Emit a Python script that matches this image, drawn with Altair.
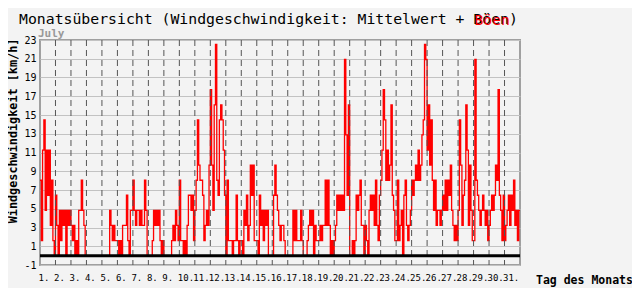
import altair as alt
import pandas as pd

# ---- data ----
DAYS = list(range(1, 32))
DAY_LABELS = [f"{d}." for d in DAYS]
Y_TICKS = list(range(-1, 24, 2))

# gust readings (mph steps, 12 readings per day)
GUSTS_MPH = {
    1: [5, 1, 7, 9, 3, 7, 4, 7, 2, 5, 1, 0],
    2: [4, 2, 0, 3, 1, 3, 2, 3, 0, 3, 2, 3],
    3: [2, 1, 2, 0, 1, 0, 3, 3, 5, 3, 2, 0],
    4: [0, 0, 0, 0, 0, 0, 0, 0, 0, 0, 0, 0],
    5: [0, 0, 0, 0, 0, 0, 3, 2, 1, 2, 1, 1],
    6: [1, 0, 1, 0, 2, 2, 2, 4, 1, 0, 3, 3],
    7: [5, 3, 2, 3, 3, 2, 3, 2, 2, 5, 3, 0],
    8: [0, 0, 0, 1, 3, 2, 3, 2, 3, 1, 0, 1],
    9: [0, 0, 0, 0, 0, 0, 1, 2, 1, 3, 2, 1],
    10: [5, 1, 1, 0, 1, 0, 2, 4, 4, 3, 4, 1],
    11: [3, 5, 9, 6, 5, 5, 4, 1, 2, 3, 2, 6],
    12: [11, 6, 3, 10, 14, 5, 4, 9, 10, 9, 7, 4],
    13: [0, 5, 1, 1, 1, 0, 1, 1, 4, 1, 0, 1],
    14: [1, 0, 3, 2, 4, 1, 2, 6, 4, 6, 1, 1],
    15: [1, 0, 4, 2, 3, 1, 3, 2, 3, 0, 0, 0],
    16: [0, 4, 6, 4, 3, 2, 1, 2, 2, 1, 0, 0],
    17: [0, 0, 0, 0, 3, 1, 3, 1, 1, 1, 3, 1],
    18: [0, 0, 0, 1, 2, 3, 2, 3, 0, 2, 1, 1],
    19: [1, 2, 1, 2, 2, 5, 2, 5, 2, 0, 1, 0],
    20: [1, 2, 4, 3, 4, 3, 4, 3, 13, 8, 4, 10],
    21: [0, 0, 1, 0, 1, 4, 3, 4, 5, 2, 2, 0],
    22: [2, 1, 0, 3, 4, 3, 4, 2, 5, 2, 1, 4],
    23: [5, 7, 11, 9, 5, 7, 5, 6, 10, 4, 3, 1],
    24: [1, 5, 1, 2, 3, 0, 4, 5, 2, 1, 2, 3],
    25: [5, 4, 5, 6, 5, 7, 5, 6, 8, 9, 14, 13],
    26: [7, 10, 6, 9, 5, 3, 5, 2, 3, 3, 2, 3],
    27: [4, 3, 5, 3, 5, 4, 6, 3, 2, 1, 2, 1],
    28: [3, 9, 6, 2, 4, 5, 10, 7, 2, 6, 3, 1],
    29: [1, 13, 5, 4, 3, 2, 3, 4, 3, 2, 3, 1],
    30: [2, 3, 4, 3, 4, 6, 5, 11, 4, 3, 1, 4],
    31: [1, 2, 3, 4, 2, 4, 3, 5, 2, 3, 1, 3],
}
MPH_TO_KMH = 1.609

# mean wind per day (km/h)
MEAN_KMH = [0] * 31

# ---- tables ----
gust_rows = []
for d in DAYS:
    vals = GUSTS_MPH[d]
    n = len(vals)
    for i, k in enumerate(vals):
        gust_rows.append({"t": d + i / n, "v": round(k * MPH_TO_KMH, 2)})
gust_rows.append({"t": 32, "v": gust_rows[-1]["v"]})
gust_df = pd.DataFrame(gust_rows)

mean_df = pd.DataFrame({"t": DAYS + [32], "v": MEAN_KMH + [MEAN_KMH[-1]]})
grid_df = pd.DataFrame({"t": DAYS[1:]})

MONO = "DejaVu Sans Mono"
xs = alt.Scale(domain=[1, 32], nice=False, zero=False)
ys = alt.Scale(domain=[-1, 23], nice=False, zero=False)

label_expr = "[" + ",".join(f"'{s}'" for s in DAY_LABELS) + "][datum.value - 1]"

AX_X = alt.Axis(
    values=DAYS, labelExpr=label_expr, grid=False, ticks=False, domain=False,
    labelAlign="left", labelBaseline="top", labelPadding=8, labelOffset=-2,
    labelOverlap=False, labelFlush=False, title=None,
    labelFont=MONO, labelFontSize=9, labelColor="#000000")
AX_Y = alt.Axis(
    values=Y_TICKS, labelExpr="'' + datum.value", grid=True,
    gridColor="#c2c2c2", gridWidth=1, ticks=False, domain=False,
    labelAlign="right", labelBaseline="middle", labelPadding=4,
    labelOverlap=False, labelFlush=False, title=None,
    labelFont=MONO, labelFontSize=10, labelColor="#000000")

gust = alt.Chart(gust_df).mark_line(
    color="#ff0000", strokeWidth=1.3, interpolate="step-after"
).encode(
    x=alt.X("t:Q", scale=xs, axis=AX_X),
    y=alt.Y("v:Q", scale=ys, axis=AX_Y),
)

vgrid = alt.Chart(grid_df).mark_rule(
    color="#555555", strokeDash=[6, 4], strokeWidth=1
).encode(x=alt.X("t:Q", scale=xs, axis=AX_X))

mean = alt.Chart(mean_df).mark_line(
    color="#000000", strokeWidth=3
).encode(
    x=alt.X("t:Q", scale=xs, axis=AX_X),
    y=alt.Y("v:Q", scale=ys, axis=AX_Y),
)

one = alt.Data(values=[{"a": 1}])


def txt(s, x, y, size, color="#000000", weight="normal", angle=0, align="left"):
    return alt.Chart(one).mark_text(
        font=MONO, fontSize=size, fontWeight=weight, color=color,
        align=align, baseline="alphabetic", angle=angle
    ).encode(x=alt.value(x), y=alt.value(y), text=alt.value(s))


title_text = "Monatsübersicht (Windgeschwindigkeit: Mittelwert + Böen)"
char_w = 14.8 * 0.602
title = txt(title_text, -21, -16, 14.8)
red = txt("Böen", -21 + 51 * char_w + 1, -15, 14.8, color="#ff0000")
july = txt("July", -2, -3, 11, color="#999999", weight="bold")
ytitle = txt("Windgeschwindigkeit [km/h]", -23, 91, 11.8, weight="bold",
             angle=270, align="center")
xtitle = txt("Tag des Monats", 496, 244, 11.5, weight="bold")

chart = alt.layer(gust, vgrid, mean, title, red, july, ytitle, xtitle).properties(
    width=480, height=225,
    padding={"left": 32, "top": 32, "right": 112, "bottom": 23},
    autosize=alt.AutoSizeParams(type="none"),
    background="#f3f3f3",
).configure_view(
    stroke="#a0a0a0", strokeWidth=2
)

chart.save("out.html", embed_options={"renderer": "svg", "actions": False})
